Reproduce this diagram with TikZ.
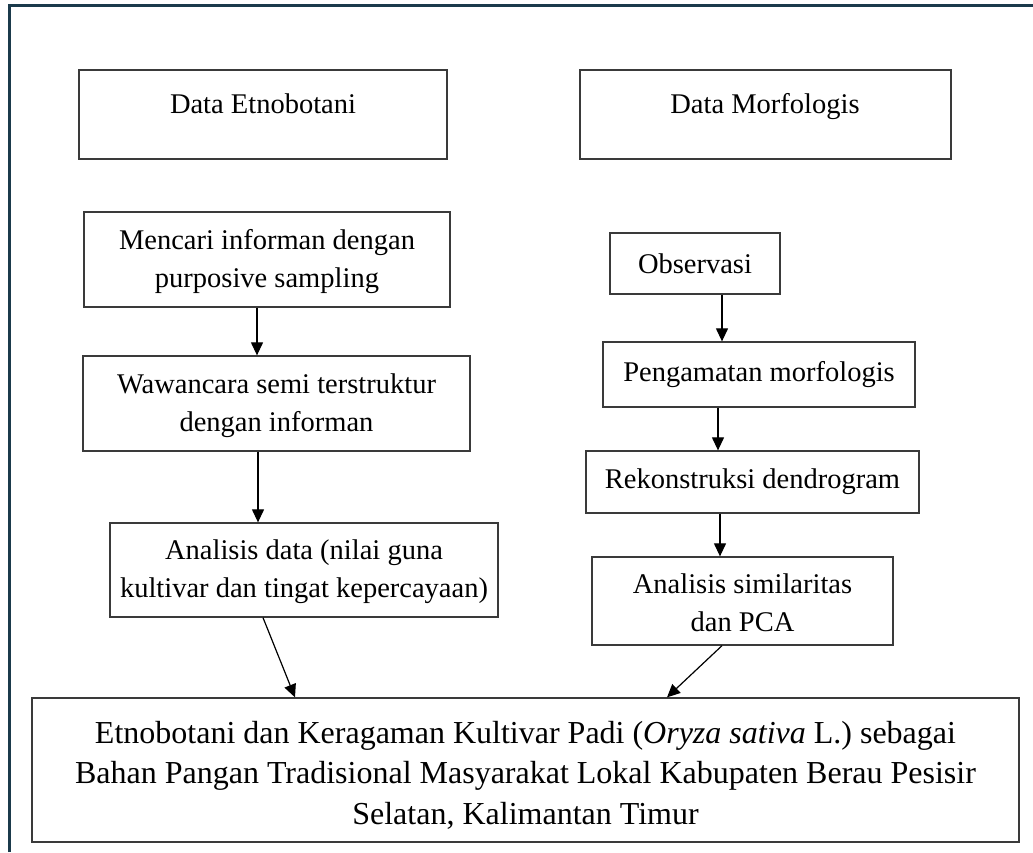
\documentclass[tikz,border=0pt]{standalone}
\usepackage{fontspec}
\setmainfont{Liberation Serif}
\usetikzlibrary{arrows.meta}
\definecolor{framecol}{HTML}{1B3A4B}
\definecolor{boxcol}{HTML}{3A3A3A}
\tikzset{
  frameline/.style={draw=framecol, line width=3pt},
  box/.style={draw=boxcol, line width=1.3pt, rectangle, inner sep=0pt, align=center,
    font=\fontsize{28.5}{38}\selectfont},
  lbl/.style={inner sep=0pt, align=center, font=\fontsize{28.5}{38}\selectfont},
  biglbl/.style={inner sep=0pt, align=center, font=\fontsize{32}{40.5}\selectfont},
  arr/.style={draw=black, line width=1.2pt, -{Triangle[width=12pt,length=13pt]}},
}
\begin{document}
\begin{tikzpicture}[x=1pt,y=-1pt]
\useasboundingbox (0,0) rectangle (1033,852);
\draw[frameline] (9,852) -- (9,5) -- (1033,5);

% top boxes
\node[box, minimum width=368, minimum height=89] (e0) at (263,114.5) {};
\node[lbl, anchor=base] (e0t) at (263,113) {Data Etnobotani};
\node[box, minimum width=371, minimum height=89] (m0) at (765.5,114.5) {};
\node[lbl, anchor=base] (m0t) at (765,113) {Data Morfologis};

% left column
\node[box, minimum width=366, minimum height=95] (e1) at (267,259.5) {};
\node[lbl] (e1t) at (267,262) {Mencari informan dengan\\purposive sampling};
\node[box, minimum width=387, minimum height=95] (e2) at (276.5,403.5) {};
\node[lbl] (e2t) at (276.5,406) {Wawancara semi terstruktur\\dengan informan};
\node[box, minimum width=388, minimum height=94] (e3) at (304,570) {};
\node[lbl] (e3t) at (304,572) {Analisis data (nilai guna\\kultivar dan tingat kepercayaan)};

% right column
\node[box, minimum width=170, minimum height=61] (m1) at (695,263.5) {Observasi};
\node[box, minimum width=312, minimum height=65] (m2) at (759,374.5) {Pengamatan morfologis};
\node[box, minimum width=333, minimum height=62] (m3) at (752.5,482) {Rekonstruksi dendrogram};
\node[box, minimum width=301, minimum height=88] (m4) at (742.5,601) {};
\node[lbl] (m4t) at (742.5,603) {Analisis similaritas\\dan PCA};

% bottom box
\node[box, minimum width=987, minimum height=144] (b) at (525.5,770) {};
\node[biglbl] (bt) at (525.5,775)
  {Etnobotani dan Keragaman Kultivar Padi (\textit{Oryza sativa} L.) sebagai\\Bahan Pangan Tradisional Masyarakat Lokal Kabupaten Berau Pesisir\\Selatan, Kalimantan Timur};

% connectors
\draw[arr] (e1.south -| 257,0) -- (e2.north -| 257,0);
\draw[arr] (e2.south -| 258,0) -- (e3.north -| 258,0);
\draw[arr] (e3.south -| 263,0) -- (b.north -| 295,0);
\draw[arr] (m1.south -| 722,0) -- (m2.north -| 722,0);
\draw[arr] (m2.south -| 718,0) -- (m3.north -| 718,0);
\draw[arr] (m3.south -| 720,0) -- (m4.north -| 720,0);
\draw[arr] (m4.south -| 722,0) -- (b.north -| 667,0);
\end{tikzpicture}
\end{document}
